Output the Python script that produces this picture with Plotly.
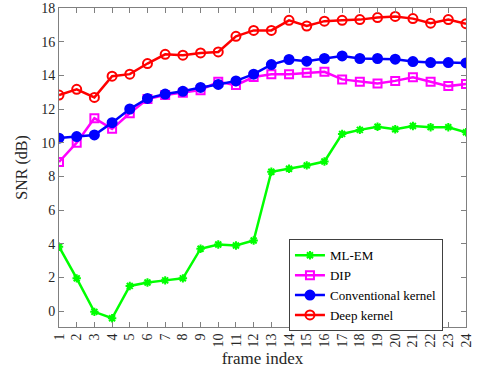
import plotly.graph_objects as go

frames = list(range(1, 25))
ml_em = [3.82, 1.94, -0.05, -0.43, 1.49, 1.69, 1.82, 1.94, 3.70, 3.95, 3.89, 4.19,
         8.27, 8.45, 8.65, 8.88, 10.52, 10.76, 10.95, 10.80, 10.99, 10.92, 10.92, 10.62]
dip = [8.85, 10.0, 11.45, 10.82, 11.75, 12.59, 12.83, 12.97, 13.12, 13.62, 13.42, 13.90,
       14.07, 14.07, 14.15, 14.21, 13.76, 13.62, 13.52, 13.67, 13.88, 13.62, 13.36, 13.48]
conv = [10.27, 10.36, 10.46, 11.19, 12.0, 12.63, 12.89, 13.05, 13.28, 13.46, 13.67, 14.07,
        14.64, 14.94, 14.84, 15.0, 15.15, 15.0, 15.0, 14.96, 14.82, 14.76, 14.76, 14.74]
deep = [12.83, 13.17, 12.69, 13.95, 14.07, 14.70, 15.25, 15.20, 15.33, 15.39, 16.32, 16.67,
        16.67, 17.27, 16.93, 17.22, 17.27, 17.31, 17.43, 17.50, 17.37, 17.10, 17.31, 17.07]
y_ticks = list(range(0, 19, 2))

font = "Liberation Serif"
fig = go.Figure()
series = [
    ("ML-EM", ml_em, "#00FF00", "asterisk-open", 7),
    ("DIP", dip, "#FF00FF", "square-open", 8),
    ("Conventional kernel", conv, "#0000FF", "circle", 9),
    ("Deep kernel", deep, "#FF0000", "circle-open", 9),
]
for name, vals, col, sym, sz in series:
    fig.add_trace(go.Scatter(
        x=frames, y=vals, name=name, mode="lines+markers",
        line=dict(color=col, width=2.5),
        marker=dict(symbol=sym, size=sz, color=col, line=dict(color=col, width=2)),
    ))

axis_common = dict(showline=True, linecolor="#808080", linewidth=1, mirror="ticks",
                   ticks="inside", ticklen=5, tickcolor="#808080", showgrid=False,
                   zeroline=False, automargin=False,
                   tickfont=dict(family=font, size=14, color="#262626"))
fig.update_xaxes(range=[1, 24], tickmode="array", tickvals=frames,
                 ticktext=[str(f) for f in frames], tickangle=-90,
                 title=dict(text="frame index", font=dict(family=font, size=17, color="#262626"),
                            standoff=5),
                 **axis_common)
fig.update_yaxes(range=[-0.95, 18], tickmode="array", tickvals=y_ticks,
                 title=dict(text="SNR (dB)", font=dict(family=font, size=16, color="#262626"),
                            standoff=9),
                 **axis_common)
fig.update_layout(
    width=477, height=375,
    margin=dict(l=59, r=11, t=8, b=48),
    plot_bgcolor="white", paper_bgcolor="white",
    legend=dict(x=0.565, y=0.275, xanchor="left", yanchor="top",
                bordercolor="#404040", borderwidth=1, bgcolor="white",
                font=dict(family=font, size=13, color="#000000"),
                tracegroupgap=0, itemwidth=30),
)
fig.write_html("out.html", post_script="document.body.style.margin='0';",
               config={"displayModeBar": False})
